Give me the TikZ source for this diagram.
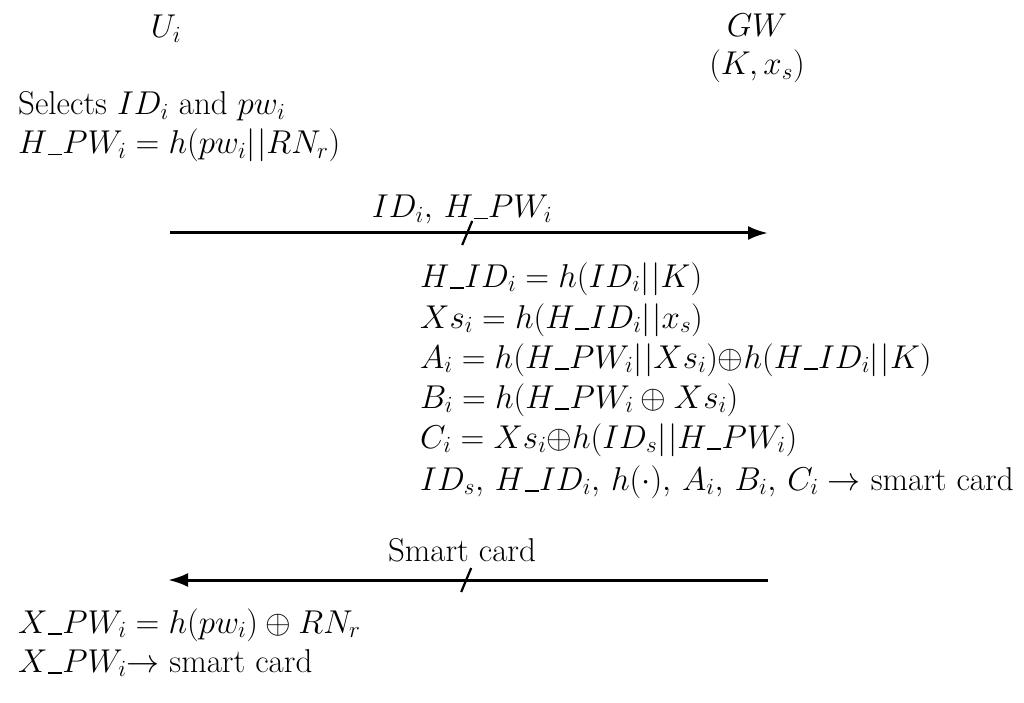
\documentclass[tikz,border=0pt]{standalone}
\usepackage{fix-cm}
\usepackage{amsmath}
\usetikzlibrary{arrows.meta}
\newcommand{\us}{\mathord{\kern0.5pt\rule[-1.5pt]{0.42em}{1.4pt}\kern0.5pt}}
\newcommand{\cc}{\mathord{|}\mkern1mu\mathord{|}}
\begin{document}
\begin{tikzpicture}[x=1pt,y=-1pt,
  txt/.style={inner sep=0pt, anchor=base west, font=\fontsize{33}{40}\selectfont},
  ctxt/.style={txt, anchor=base},
  msg/.style={line width=3pt, -{Latex[length=20pt,width=14pt]}},
  tickl/.style={line width=2.2pt}]
\useasboundingbox (0,0) rectangle (1024,703);
% headers
\node[ctxt] (ui) at (166,38) {$U_i$};
\node[ctxt] (gw) at (757,37) {$GW$};
\node[ctxt] (kx) at (757,75) {$(K, x_s)$};
% user side, registration request
\node[txt] (sel) at (18,115) {Selects $ID_i$ and $pw_i$};
\node[txt] (hpw) at (18,154) {$H\us PW_i = h(pw_i\cc RN_r)$};
% message 1
\coordinate (m1s) at (170,233);
\coordinate (m1e) at (768,233);
\node[ctxt] (l1) at (462,218) {$ID_i,\, H\us PW_i$};
\draw[msg] (m1s) -- (m1e) coordinate[pos=0.497] (t1);
\draw[tickl] ([shift={(-5,12)}]t1) -- ([shift={(5,-12)}]t1);
% gateway computations
\node[txt] (g1) at (420,287) {$H\us ID_i = h(ID_i\cc K)$};
\node[txt] (g2) at (420,328) {$Xs_i = h(H\us ID_i\cc x_s)$};
\node[txt] (g3) at (420,368) {$A_i = h(H\us PW_i\cc Xs_i){\oplus}h(H\us ID_i\cc K)$};
\node[txt] (g4) at (420,408) {$B_i = h(H\us PW_i \oplus Xs_i)$};
\node[txt] (g5) at (420,448) {$C_i = Xs_i{\oplus}h(ID_s\cc H\us PW_i)$};
\node[txt] (g6) at (420,490) {$ID_s,\, H\us ID_i,\, h(\cdot),\, A_i,\, B_i,\, C_i \rightarrow$ smart card};
% message 2
\coordinate (m2s) at (768,580);
\coordinate (m2e) at (168,580);
\node[ctxt] (l2) at (462,561) {Smart card};
\draw[msg] (m2s) -- (m2e) coordinate[pos=0.503] (t2);
\draw[tickl] ([shift={(-5,12)}]t2) -- ([shift={(5,-12)}]t2);
% user side, storing
\node[txt] (x1) at (18,633) {$X\us PW_i = h(pw_i) \oplus RN_r$};
\node[txt] (x2) at (18,672) {$X\us PW_i{\rightarrow}$ smart card};
\end{tikzpicture}
\end{document}
